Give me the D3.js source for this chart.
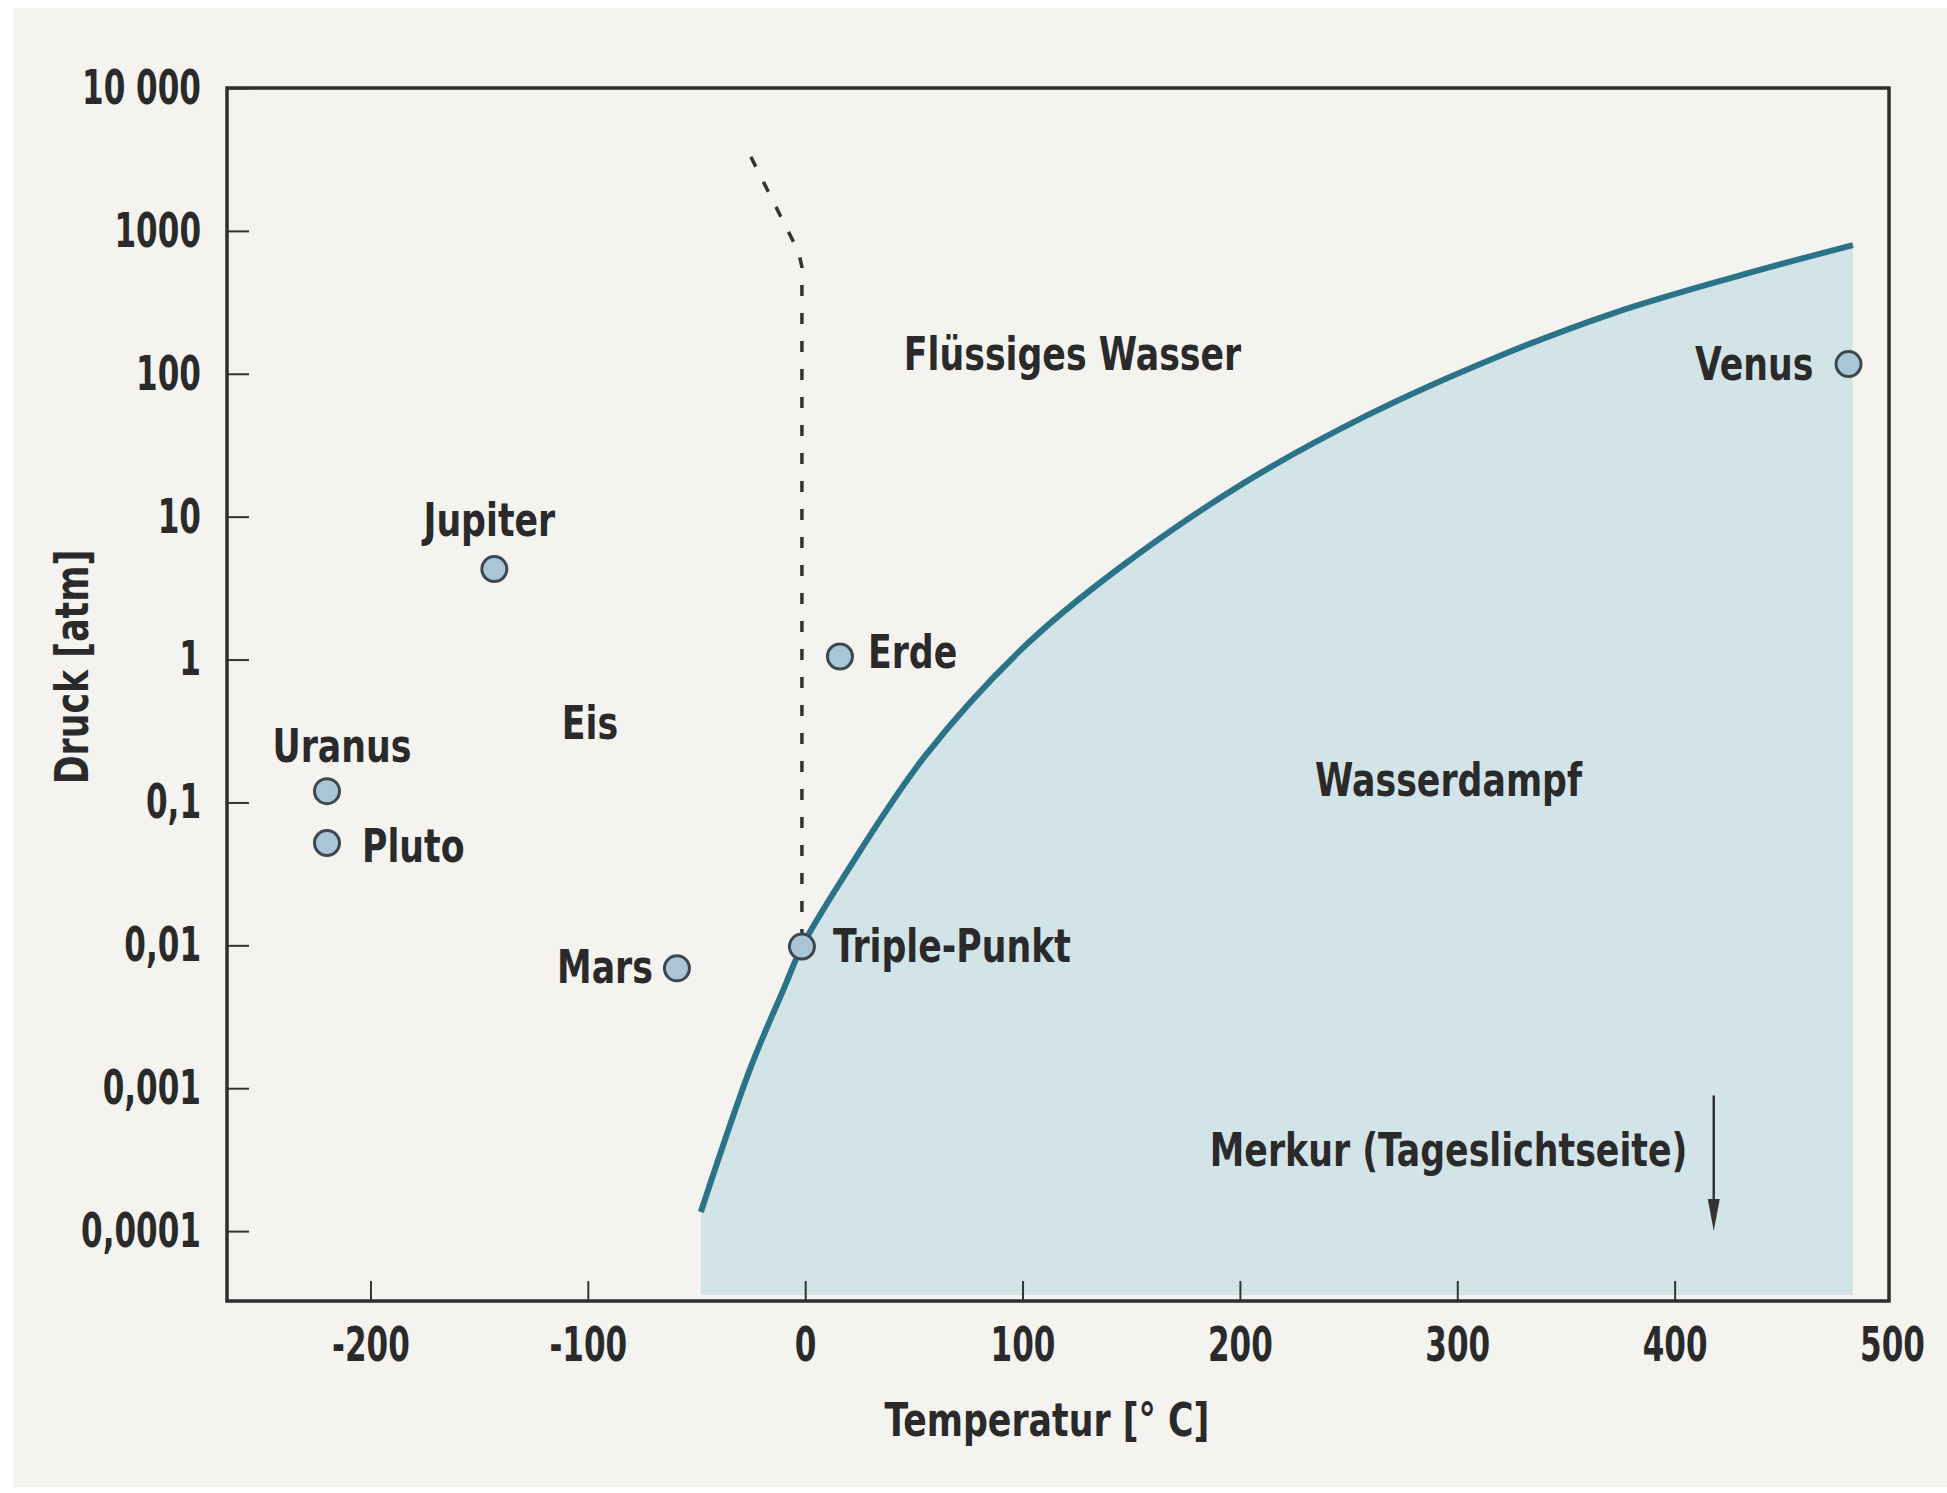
<!DOCTYPE html>
<html>
<head>
<meta charset="utf-8">
<script src="https://cdn.jsdelivr.net/npm/d3@7"></script>
<style>
  body { margin: 0; background: #ffffff; }
  text { font-family: "Liberation Sans Narrow", "DejaVu Sans Condensed", "Arial Narrow", sans-serif; fill: #2a2a2a; }
</style>
</head>
<body>
<div id="chart"></div>
<script>
// Phasendiagramm Wasser: Dampfdruckkurve und Planeten

// Dampfdruckkurve (Temperatur in °C, Druck in atm)
var curveTemps = [-48, -25, -10, -1.5, 17, 55, 101, 143, 201, 258, 315, 372, 429, 482];
var curvePress = [1.36e-4, 1.41e-3, 4.9e-3, 0.0098, 0.029, 0.21, 1.24, 4.2, 16.9, 50.7, 125, 266, 483, 796];

// gestrichelte Schmelzkurve Eis / Wasser
var meltTemps = [-25, -3, -1.5, -1.5];
var meltPress = [3300, 710, 560, 0.0098];

// Planeten und Tripelpunkt
var planetNames = ["Jupiter", "Erde", "Uranus", "Pluto", "Mars", "Triple-Punkt", "Venus"];
var planetTemps = [-143, 16, -220, -220, -59, -1.5, 480];
var planetPress = [4.3, 1.05, 0.12, 0.052, 0.0069, 0.0098, 117];

// Bereichsbeschriftungen
var regionNames = ["Eis", "Flüssiges Wasser", "Wasserdampf", "Merkur (Tageslichtseite)"];
var regionTemps = [-99, 123, 296, 296];
var regionPress = [0.36, 138, 0.146, 3.7e-4];

// Pfeil Merkur
var arrowTemp = 418;
var arrowPress = [8.9e-4, 1.0e-4];

// Achsen
var xTicks = [-200, -100, 0, 100, 200, 300, 400, 500];
var yTicks = [10000, 1000, 100, 10, 1, 0.1, 0.01, 0.001, 0.0001];
var yTickLabels = ["10 000", "1000", "100", "10", "1", "0,1", "0,01", "0,001", "0,0001"];

var width = 1947, height = 1493;
var margin = {top: 88, right: 58, bottom: 192, left: 227};
var w = width - margin.left - margin.right,
    h = height - margin.top - margin.bottom;

var x = d3.scaleLinear().domain([-266, 500]).range([0, w + 3]);
// 10 000 sitzt auf dem oberen Rand, unten geht es etwa eine halbe Dekade unter 0,0001
var yBottom = Math.pow(10, -4 - 70 / 143.1);
var y = d3.scaleLog().domain([yBottom, 10000]).range([h, 0]);

var svg = d3.select("#chart").append("svg")
    .attr("width", width)
    .attr("height", height);

// Papier
svg.append("rect")
    .attr("x", 13).attr("y", 8)
    .attr("width", width - 13).attr("height", height - 14)
    .attr("fill", "#f5f3ef");

var g = svg.append("g")
    .attr("transform", "translate(" + margin.left + "," + margin.top + ")");

var curve = curveTemps.map(function(t, i) { return {t: t, p: curvePress[i]}; });

// Wasserdampf-Fläche
var area = d3.area()
    .x(function(d) { return x(d.t); })
    .y0(h - 6)
    .y1(function(d) { return y(d.p); })
    .curve(d3.curveCatmullRom.alpha(0.5));

g.append("path")
    .datum(curve)
    .attr("d", area)
    .attr("fill", "#d3e4e8");

// Achsen mit Ticks nach innen
var xAxis = g.append("g")
    .attr("transform", "translate(0," + h + ")")
    .call(d3.axisBottom(x).tickValues(xTicks).tickSize(-20).tickPadding(26)
      .tickFormat(function(d) { return d < 0 ? "-" + Math.abs(d) : d; }));
xAxis.select(".domain").remove();
xAxis.selectAll(".tick line")
    .attr("stroke", "#333").attr("stroke-width", 2)
    .attr("display", function(d) { return d === 500 ? "none" : null; });
xAxis.selectAll(".tick text").attr("class", "tick-label").attr("font-size", 48);

var yAxis = g.append("g")
    .call(d3.axisLeft(y).tickValues(yTicks).tickSize(-22).tickPadding(26)
      .tickFormat(function(d, i) { return yTickLabels[i]; }));
yAxis.select(".domain").remove();
yAxis.selectAll(".tick line").attr("stroke", "#333").attr("stroke-width", 2);
yAxis.selectAll(".tick text").attr("class", "tick-label").attr("font-size", 48);

svg.selectAll(".tick-label")
    .attr("fill", "#2a2a2a")
    .attr("font-weight", "bold");

// Rahmen
g.append("rect")
    .attr("width", w).attr("height", h)
    .attr("fill", "none")
    .attr("stroke", "#2e2e2e")
    .attr("stroke-width", 3.5);

// Schmelzkurve
var melt = meltTemps.map(function(t, i) { return {t: t, p: meltPress[i]}; });
g.append("path")
    .datum(melt)
    .attr("d", d3.line().x(function(d) { return x(d.t); }).y(function(d) { return y(d.p); }))
    .attr("fill", "none")
    .attr("stroke", "#333")
    .attr("stroke-width", 3.5)
    .attr("stroke-dasharray", "11,17");

// Dampfdruckkurve
g.append("path")
    .datum(curve)
    .attr("d", d3.line().x(function(d) { return x(d.t); }).y(function(d) { return y(d.p); })
      .curve(d3.curveCatmullRom.alpha(0.5)))
    .attr("fill", "none")
    .attr("stroke", "#2a7389")
    .attr("stroke-width", 6);

// Planeten
var labelOff = [
  {dx: -5, dy: -50, anchor: "middle"},
  {dx: 28, dy: -5, anchor: "start"},
  {dx: 15, dy: -46, anchor: "middle"},
  {dx: 35, dy: 2, anchor: "start"},
  {dx: -24, dy: -2, anchor: "end"},
  {dx: 31, dy: -1, anchor: "start"},
  {dx: -35, dy: -1, anchor: "end"}
];
var planets = planetNames.map(function(n, i) {
  return {name: n, t: planetTemps[i], p: planetPress[i], off: labelOff[i]};
});

g.selectAll(".planet")
    .data(planets)
  .enter().append("circle")
    .attr("class", "planet")
    .attr("cx", function(d) { return x(d.t); })
    .attr("cy", function(d) { return y(d.p); })
    .attr("r", 12.5)
    .attr("fill", "#a9c5d6")
    .attr("stroke", "#3c4750")
    .attr("stroke-width", 3);

g.selectAll(".plabel")
    .data(planets)
  .enter().append("text")
    .attr("class", "plabel lbl")
    .attr("x", function(d) { return x(d.t) + d.off.dx; })
    .attr("y", function(d) { return y(d.p) + d.off.dy; })
    .attr("dy", "0.36em")
    .attr("text-anchor", function(d) { return d.off.anchor; })
    .text(function(d) { return d.name; });

// Bereiche
g.selectAll(".region")
    .data(regionNames)
  .enter().append("text")
    .attr("class", "region lbl")
    .attr("x", function(d, i) { return x(regionTemps[i]); })
    .attr("y", function(d, i) { return y(regionPress[i]); })
    .attr("dy", "0.36em")
    .attr("text-anchor", "middle")
    .text(function(d) { return d; });

// Pfeil Merkur
var ax = x(arrowTemp), ay0 = y(arrowPress[0]), ay1 = y(arrowPress[1]);
g.append("line")
    .attr("x1", ax).attr("x2", ax)
    .attr("y1", ay0).attr("y2", ay1 - 28)
    .attr("stroke", "#333")
    .attr("stroke-width", 2.5);
g.append("path")
    .attr("d", "M" + (ax - 6) + "," + (ay1 - 32) + "L" + (ax + 6) + "," + (ay1 - 32) + "L" + ax + "," + ay1 + "Z")
    .attr("fill", "#333");

// Achsentitel
svg.append("text")
    .attr("class", "lbl")
    .attr("x", 1047).attr("y", 1419)
    .attr("dy", "0.36em")
    .attr("text-anchor", "middle")
    .text("Temperatur [° C]");

svg.append("text")
    .attr("class", "lbl")
    .attr("transform", "translate(71,667) rotate(-90)")
    .attr("dy", "0.36em")
    .attr("text-anchor", "middle")
    .text("Druck [atm]");

svg.selectAll(".lbl")
    .attr("font-size", 46)
    .attr("font-weight", "bold");

// Schrift schmaler machen, wie im Original (horizontal um den Ankerpunkt stauchen)
function squeeze(sel, k) {
  sel.each(function() {
    var t = d3.select(this);
    var x0 = +t.attr("x") || 0;
    var old = t.attr("transform") || "";
    t.attr("transform", old + " translate(" + x0 + ",0) scale(" + k + ",1) translate(" + (-x0) + ",0)");
  });
}
squeeze(svg.selectAll(".lbl"), 0.84);
squeeze(svg.selectAll(".tick-label"), 0.72);
</script>
</body>
</html>
